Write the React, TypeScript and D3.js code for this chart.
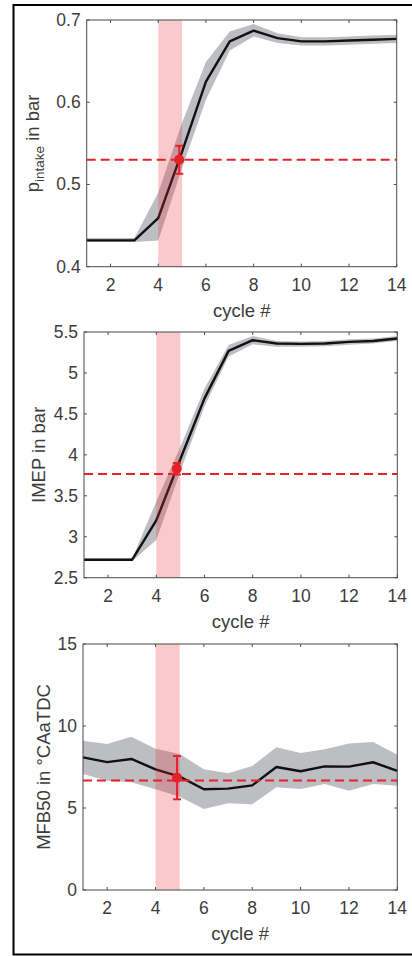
import React from "react";
import * as d3 from "d3";

const cycles = [1, 2, 3, 4, 5, 6, 7, 8, 9, 10, 11, 12, 13, 14];
const xTicks = [2, 4, 6, 8, 10, 12, 14];

const pMean = [0.432, 0.432, 0.432, 0.459, 0.54, 0.625, 0.674, 0.687, 0.678, 0.674, 0.674, 0.675, 0.676, 0.677];
const pUpper = [0.435, 0.435, 0.435, 0.49, 0.575, 0.649, 0.686, 0.695, 0.684, 0.679, 0.679, 0.68, 0.681, 0.682];
const pLower = [0.43, 0.43, 0.43, 0.432, 0.52, 0.603, 0.663, 0.68, 0.672, 0.669, 0.669, 0.67, 0.671, 0.672];
const pTicks = [0.4, 0.5, 0.6, 0.7];

const imepMean = [2.72, 2.72, 2.72, 3.2, 3.95, 4.69, 5.27, 5.4, 5.36, 5.355, 5.36, 5.38, 5.39, 5.42];
const imepUpper = [2.735, 2.735, 2.735, 3.43, 4.1, 4.81, 5.34, 5.45, 5.39, 5.385, 5.39, 5.41, 5.42, 5.45];
const imepLower = [2.705, 2.705, 2.705, 2.96, 3.8, 4.59, 5.2, 5.35, 5.32, 5.32, 5.325, 5.345, 5.36, 5.39];
const imepTicks = [2.5, 3, 3.5, 4, 4.5, 5, 5.5];

const mfbMean = [8.09, 7.8, 7.99, 7.36, 6.91, 6.14, 6.18, 6.38, 7.5, 7.24, 7.54, 7.52, 7.79, 7.27];
const mfbUpper = [9.1, 8.9, 9.35, 8.62, 8.29, 7.36, 7.12, 7.56, 8.7, 8.35, 8.58, 8.94, 9.02, 8.25];
const mfbLower = [7.07, 6.66, 6.57, 6.14, 5.69, 4.94, 5.29, 5.23, 6.26, 6.16, 6.46, 6.05, 6.46, 6.36];
const mfbTicks = [0, 5, 10, 15];

// target reference (dashed line) and marker: [x, y, err]
const pTarget = 0.53;
const pMarker = [4.88, 0.53, 0.017];
const imepTarget = 3.765;
const imepMarker = [4.85, 3.83, 0.07];
const mfbTarget = 6.67;
const mfbMarker = [4.89, 6.85, 1.32];
const bandRange = [4, 5];

const AX = "#4a4a4a";
const TXT = "#3c3c3c";
const RED = "#e8202a";
const FONT = "'Liberation Sans', Arial, sans-serif";

type PanelProps = {
  box: { l: number; r: number; t: number; b: number };
  yDomain: [number, number];
  yTicks: number[];
  mean: number[];
  upper: number[];
  lower: number[];
  target: number;
  marker: number[];
  ylabel: React.ReactNode;
  ylabelX: number;
};

function Panel({ box, yDomain, yTicks, mean, upper, lower, target, marker, ylabel, ylabelX }: PanelProps) {
  const x = d3.scaleLinear().domain([1, 14]).range([box.l, box.r]);
  const y = d3.scaleLinear().domain(yDomain).range([box.b, box.t]);
  const area = d3
    .area<number>()
    .x((_, i) => x(cycles[i]))
    .y0((_, i) => y(lower[i]))
    .y1((_, i) => y(upper[i]));
  const line = d3
    .line<number>()
    .x((_, i) => x(cycles[i]))
    .y((d) => y(d));
  const tl = 3;
  const yc = (box.t + box.b) / 2;
  const fmt = (v: number) => String(v);
  return (
    <g>
      <path d={area(mean) || ""} fill="#bcbec2" stroke="none" />
      <path d={line(mean) || ""} fill="none" stroke="#111" strokeWidth={2.4} strokeLinejoin="round" />
      <rect
        x={x(bandRange[0])}
        y={box.t}
        width={x(bandRange[1]) - x(bandRange[0])}
        height={box.b - box.t}
        fill="rgb(235,40,50)"
        fillOpacity={0.25}
      />
      <line x1={box.l} x2={box.r} y1={y(target)} y2={y(target)} stroke={RED} strokeWidth={2} strokeDasharray="9,5" />
      {/* axes box */}
      <rect x={box.l} y={box.t} width={box.r - box.l} height={box.b - box.t} fill="none" stroke={AX} strokeWidth={1} />
      {xTicks.map((t) => (
        <g key={"x" + t}>
          <line x1={x(t)} x2={x(t)} y1={box.b} y2={box.b - tl} stroke={AX} />
          <line x1={x(t)} x2={x(t)} y1={box.t} y2={box.t + tl} stroke={AX} />
          <text x={x(t)} y={box.b + 24} textAnchor="middle" fontSize={17.5} fill={TXT} fontFamily={FONT}>
            {t}
          </text>
        </g>
      ))}
      {yTicks.map((t) => (
        <g key={"y" + t}>
          <line x1={box.l} x2={box.l + tl} y1={y(t)} y2={y(t)} stroke={AX} />
          <line x1={box.r} x2={box.r - tl} y1={y(t)} y2={y(t)} stroke={AX} />
          <text x={box.l - 6} y={y(t) + 6} textAnchor="end" fontSize={17.5} fill={TXT} fontFamily={FONT}>
            {fmt(t)}
          </text>
        </g>
      ))}
      <text x={(box.l + box.r) / 2} y={box.b + 50} textAnchor="middle" fontSize={18.5} fill={TXT} fontFamily={FONT}>
        cycle #
      </text>
      <text
        transform={`translate(${ylabelX},${yc}) rotate(-90)`}
        textAnchor="middle"
        fontSize={18.5}
        fill={TXT}
        fontFamily={FONT}
      >
        {ylabel}
      </text>
      {/* marker with error bar */}
      <g stroke={RED} strokeWidth={2}>
        <line x1={x(marker[0])} x2={x(marker[0])} y1={y(marker[1] - marker[2])} y2={y(marker[1] + marker[2])} />
        <line x1={x(marker[0]) - 4} x2={x(marker[0]) + 4} y1={y(marker[1] - marker[2])} y2={y(marker[1] - marker[2])} />
        <line x1={x(marker[0]) - 4} x2={x(marker[0]) + 4} y1={y(marker[1] + marker[2])} y2={y(marker[1] + marker[2])} />
      </g>
      <circle cx={x(marker[0])} cy={y(marker[1])} r={5} fill={RED} />
    </g>
  );
}

export default function App() {
  return (
    <svg
      width={412}
      height={956}
      style={{ position: "absolute", left: 0, top: 0, background: "#fff" }}
    >
      <rect x={0} y={0} width={412} height={956} fill="#fff" />
      <rect x={13.5} y={5} width={410} height={949.5} fill="none" stroke="#000" strokeWidth={2} />
      <Panel
        box={{ l: 86.7, r: 396.7, t: 20, b: 266.7 }}
        yDomain={[0.4, 0.7]}
        yTicks={pTicks}
        mean={pMean}
        upper={pUpper}
        lower={pLower}
        target={pTarget}
        marker={pMarker}
        ylabelX={38.5}
        ylabel={
          <>
            <tspan>p</tspan>
            <tspan fontSize={13.5} dy={5}>intake</tspan>
            <tspan dy={-5}> in bar</tspan>
          </>
        }
      />
      <Panel
        box={{ l: 84, r: 397.3, t: 332, b: 577.7 }}
        yDomain={[2.5, 5.5]}
        yTicks={imepTicks}
        mean={imepMean}
        upper={imepUpper}
        lower={imepLower}
        target={imepTarget}
        marker={imepMarker}
        ylabelX={45}
        ylabel="IMEP in bar"
      />
      <Panel
        box={{ l: 83, r: 397.3, t: 644, b: 890 }}
        yDomain={[0, 15]}
        yTicks={mfbTicks}
        mean={mfbMean}
        upper={mfbUpper}
        lower={mfbLower}
        target={mfbTarget}
        marker={mfbMarker}
        ylabelX={50}
        ylabel="MFB50 in °CAaTDC"
      />
    </svg>
  );
}
